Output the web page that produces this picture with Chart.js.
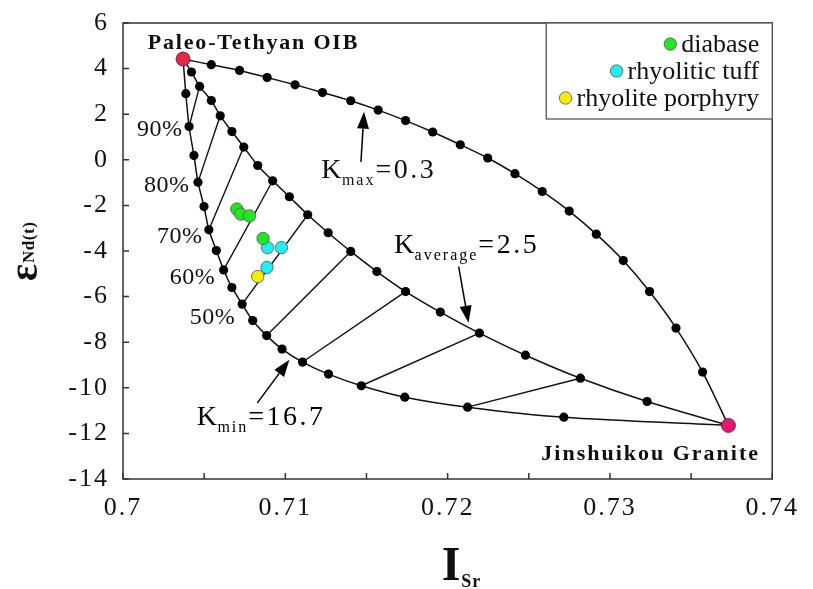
<!DOCTYPE html>
<html>
<head>
<meta charset="utf-8">
<script src="https://cdn.jsdelivr.net/npm/chart.js@4.4.1/dist/chart.umd.min.js"></script>
<style>
  body { margin: 0; background: #fff; }
  #wrap { width: 813px; height: 589px; }
</style>
</head>
<body>
<div id="wrap"><canvas id="grafico" width="813" height="589"></canvas></div>
<script>
// membros finais da mistura
const oib = [0.7037, 4.42];
const granite = [0.7373, -11.65];

// curvas de mistura (passos de 5%, sem os extremos)
const kmaxX = [0.70544, 0.70718, 0.70888, 0.71060, 0.71229, 0.71403, 0.71572, 0.71741, 0.71908, 0.72078,
  0.72247, 0.72415, 0.72583, 0.72749, 0.72916, 0.73082, 0.73244, 0.73407, 0.73571];
const kmaxY = [4.17, 3.92, 3.61, 3.29, 2.95, 2.59, 2.18, 1.72, 1.22, 0.66,
  0.08, -0.61, -1.39, -2.25, -3.26, -4.42, -5.78, -7.38, -9.31];

const kavgX = [0.70422, 0.70472, 0.70544, 0.70599, 0.70671, 0.70744, 0.70830, 0.70922, 0.71025, 0.71138,
  0.71264, 0.71403, 0.71564, 0.71741, 0.71955, 0.72196, 0.72480, 0.72818, 0.73229];
const kavgY = [3.85, 3.22, 2.60, 1.93, 1.24, 0.56, -0.25, -0.92, -1.62, -2.41,
  -3.20, -4.02, -4.90, -5.78, -6.68, -7.60, -8.57, -9.58, -10.60];

const kminX = [0.70387, 0.70407, 0.70437, 0.70462, 0.70499, 0.70529, 0.70575, 0.70620, 0.70671, 0.70734,
  0.70799, 0.70885, 0.70980, 0.71106, 0.71266, 0.71468, 0.71736, 0.72123, 0.72716];
const kminY = [2.90, 1.46, 0.19, -0.98, -2.05, -3.07, -3.98, -4.83, -5.60, -6.33,
  -7.05, -7.71, -8.30, -8.87, -9.40, -9.91, -10.41, -10.85, -11.29];

// linhas de ligação (índice do passo)
const tieSteps = [2, 4, 6, 8, 10, 12, 14, 16, 18];
const percentLabels = ['90%', '80%', '70%', '60%', '50%'];

// amostras
const diabaseX = [0.70701, 0.70725, 0.70779, 0.70863];
const diabaseY = [-2.16, -2.38, -2.46, -3.45];
const tuffX = [0.70890, 0.70976, 0.70887];
const tuffY = [-3.85, -3.85, -4.72];
const porphyryX = [0.70830];
const porphyryY = [-5.12];

const legendNames = ['diabase', 'rhyolitic tuff', 'rhyolite porphyry'];
const legendColors = ['#22e622', '#22eef0', '#f6ee00'];

const serif = '"Liberation Serif", "Times New Roman", serif';

function pontos(xs, ys) {
  return xs.map((x, i) => ({ x: x, y: ys[i] }));
}

function curva(xs, ys) {
  return [{ x: oib[0], y: oib[1] }, ...pontos(xs, ys), { x: granite[0], y: granite[1] }];
}

function raioCurva(ctx) {
  const n = ctx.dataset.data.length;
  return (ctx.dataIndex === 0 || ctx.dataIndex === n - 1) ? 0 : 4.6;
}

const datasets = [];

[[kmaxX, kmaxY], [kavgX, kavgY], [kminX, kminY]].forEach(([xs, ys]) => {
  datasets.push({
    data: curva(xs, ys),
    showLine: true,
    borderColor: '#111',
    borderWidth: 1.5,
    tension: 0.25,
    pointRadius: raioCurva,
    pointBackgroundColor: '#000',
    pointBorderWidth: 0,
    order: 5
  });
});

tieSteps.forEach(s => {
  datasets.push({
    data: [{ x: kminX[s - 1], y: kminY[s - 1] }, { x: kavgX[s - 1], y: kavgY[s - 1] }],
    showLine: true,
    borderColor: '#111',
    borderWidth: 1.4,
    pointRadius: 0,
    order: 6
  });
});

// extremos
datasets.push({
  data: [{ x: oib[0], y: oib[1] }],
  pointRadius: 7,
  pointBackgroundColor: '#e2284c',
  pointBorderColor: '#5a1020',
  pointBorderWidth: 0.8,
  order: 2
});
datasets.push({
  data: [{ x: granite[0], y: granite[1] }],
  pointRadius: 7,
  pointBackgroundColor: '#e3186e',
  pointBorderColor: '#5a1030',
  pointBorderWidth: 0.8,
  order: 2
});

[[diabaseX, diabaseY], [tuffX, tuffY], [porphyryX, porphyryY]].forEach(([xs, ys], i) => {
  datasets.push({
    data: pontos(xs, ys),
    pointRadius: 6.2,
    pointBackgroundColor: legendColors[i],
    pointBorderColor: '#555',
    pointBorderWidth: 0.8,
    order: 1
  });
});

function texto(ctx, txt, x, y, font, spacing) {
  ctx.font = font;
  ctx.letterSpacing = spacing + 'px';
  ctx.fillText(txt, x, y);
  const w = ctx.measureText(txt).width;
  ctx.letterSpacing = '0px';
  return w;
}

function seta(ctx, x1, y1, x2, y2) {
  const ang = Math.atan2(y2 - y1, x2 - x1);
  const len = 17, half = 6;
  const bx = x2 - len * Math.cos(ang), by = y2 - len * Math.sin(ang);
  ctx.beginPath();
  ctx.moveTo(x1, y1);
  ctx.lineTo(bx, by);
  ctx.lineWidth = 1.5;
  ctx.strokeStyle = '#000';
  ctx.stroke();
  ctx.beginPath();
  ctx.moveTo(x2, y2);
  ctx.lineTo(bx + half * Math.sin(ang), by - half * Math.cos(ang));
  ctx.lineTo(bx - half * Math.sin(ang), by + half * Math.cos(ang));
  ctx.closePath();
  ctx.fillStyle = '#000';
  ctx.fill();
}

// rótulos K: [posição texto x, y, subscrito, valor, seta de, seta para]
const kLabels = [
  [0.71221, -0.79, 'max', '=0.3', [0.71466, -0.09], [0.71485, 2.11]],
  [0.71669, -4.08, 'average', '=2.5', [0.72068, -4.69], [0.72129, -7.15]],
  [0.70454, -11.62, 'min', '=16.7', [0.70828, -10.66], [0.71025, -8.77]]
];
// posições dos rótulos de porcentagem
const percentPos = [[0.70086, 1.32], [0.70129, -1.14], [0.70209, -3.38], [0.70288, -5.18], [0.70411, -6.93]];

const decorPlugin = {
  id: 'decor',
  beforeLayout(chart) { chart.ctx.letterSpacing = '2px'; },
  afterLayout(chart) { chart.ctx.letterSpacing = '0px'; },
  beforeDraw(chart) {
    const ctx = chart.ctx;
    ctx.save();
    ctx.fillStyle = '#fff';
    ctx.fillRect(0, 0, chart.width, chart.height);
    ctx.restore();
    ctx.letterSpacing = '2px';
  },
  beforeDatasetsDraw(chart) { chart.ctx.letterSpacing = '0px'; },
  afterDraw(chart) {
    const ctx = chart.ctx;
    const a = chart.chartArea;
    const xs = chart.scales.x, ys = chart.scales.y;
    ctx.save();
    ctx.letterSpacing = '0px';

    // moldura
    ctx.strokeStyle = '#333';
    ctx.lineWidth = 1.5;
    ctx.strokeRect(a.left, a.top, a.right - a.left, a.bottom - a.top);

    // marcas para dentro
    ctx.beginPath();
    xs.ticks.forEach(t => {
      const px = xs.getPixelForValue(t.value);
      ctx.moveTo(px, a.bottom);
      ctx.lineTo(px, a.bottom - 6);
    });
    ys.ticks.forEach(t => {
      const py = ys.getPixelForValue(t.value);
      ctx.moveTo(a.left, py);
      ctx.lineTo(a.left + 6, py);
    });
    ctx.stroke();

    // legenda
    const lx = a.right - 226, lb = a.top + 96;
    ctx.fillStyle = '#fff';
    ctx.fillRect(lx, a.top, a.right - lx, lb - a.top);
    ctx.strokeStyle = '#555';
    ctx.lineWidth = 1.3;
    ctx.strokeRect(lx, a.top, a.right - lx, lb - a.top);
    ctx.font = '26px ' + serif;
    ctx.textBaseline = 'middle';
    legendNames.forEach((nome, i) => {
      const cy = a.top + 21 + i * 27;
      const w = ctx.measureText(nome).width;
      const tx = a.right - 13 - w;
      ctx.fillStyle = '#111';
      ctx.textAlign = 'left';
      ctx.fillText(nome, tx, cy + 1);
      ctx.beginPath();
      ctx.arc(tx - 11, cy, 6.2, 0, Math.PI * 2);
      ctx.fillStyle = legendColors[i];
      ctx.fill();
      ctx.lineWidth = 0.8;
      ctx.strokeStyle = '#555';
      ctx.stroke();
    });

    // rótulos dos membros finais
    ctx.textBaseline = 'alphabetic';
    ctx.textAlign = 'left';
    ctx.fillStyle = '#111';
    texto(ctx, 'Paleo-Tethyan OIB', xs.getPixelForValue(0.70153), ys.getPixelForValue(4.87), 'bold 22px ' + serif, 1.8);
    texto(ctx, 'Jinshuikou Granite', xs.getPixelForValue(0.72577), ys.getPixelForValue(-13.16), 'bold 22px ' + serif, 2);

    // porcentagens
    ctx.textBaseline = 'middle';
    percentLabels.forEach((p, i) => {
      texto(ctx, p, xs.getPixelForValue(percentPos[i][0]), ys.getPixelForValue(percentPos[i][1]), '24px ' + serif, 0.5);
    });

    // K e setas
    ctx.textBaseline = 'alphabetic';
    kLabels.forEach(k => {
      let x = xs.getPixelForValue(k[0]);
      const y = ys.getPixelForValue(k[1]);
      x += texto(ctx, 'K', x, y, '28px ' + serif, 0.5);
      x += texto(ctx, k[2], x, y + 7, '16px ' + serif, 2);
      texto(ctx, k[3], x, y, '28px ' + serif, 2.5);
      seta(ctx, xs.getPixelForValue(k[4][0]), ys.getPixelForValue(k[4][1]),
        xs.getPixelForValue(k[5][0]), ys.getPixelForValue(k[5][1]));
    });

    // título do eixo x
    ctx.fillStyle = '#111';
    const ix = (a.left + a.right) / 2 - 6;
    const w = texto(ctx, 'I', ix, 580, 'bold 48px ' + serif, 0);
    texto(ctx, 'Sr', ix + w + 1, 587, 'bold 18px ' + serif, 1);

    // título do eixo y
    ctx.save();
    ctx.translate(37, 281);
    ctx.rotate(-Math.PI / 2);
    const we = texto(ctx, 'ε', 0, 0, 'bold 40px ' + serif, 0);
    texto(ctx, 'Nd(t)', we + 1, -3, 'bold 17px ' + serif, 0.5);
    ctx.restore();

    ctx.restore();
  }
};

const grafico = new Chart(document.getElementById('grafico').getContext('2d'), {
  type: 'scatter',
  data: { datasets: datasets },
  options: {
    responsive: false,
    animation: false,
    layout: { padding: { left: 0, top: 23, right: 38, bottom: 0 } },
    plugins: { legend: { display: false }, tooltip: { enabled: false } },
    scales: {
      x: {
        min: 0.7,
        max: 0.74,
        afterFit: s => { s.height = 110; },
        grid: { display: false, drawTicks: false },
        border: { display: false },
        ticks: {
          stepSize: 0.005,
          autoSkip: false,
          maxRotation: 0,
          padding: 14,
          color: '#111',
          font: { family: serif, size: 26 },
          callback: v => {
            const c = v * 100;
            return Math.abs(c - Math.round(c)) < 1e-6 ? String(Number(v.toFixed(3))) : '';
          }
        }
      },
      y: {
        min: -14,
        max: 6,
        afterFit: s => { s.width = 123; },
        grid: { display: false, drawTicks: false },
        border: { display: false },
        ticks: {
          stepSize: 2,
          autoSkip: false,
          padding: 14,
          color: '#111',
          font: { family: serif, size: 26, lineHeight: 0.6 },
          callback: v => String(v)
        }
      }
    }
  },
  plugins: [decorPlugin]
});
</script>
</body>
</html>
